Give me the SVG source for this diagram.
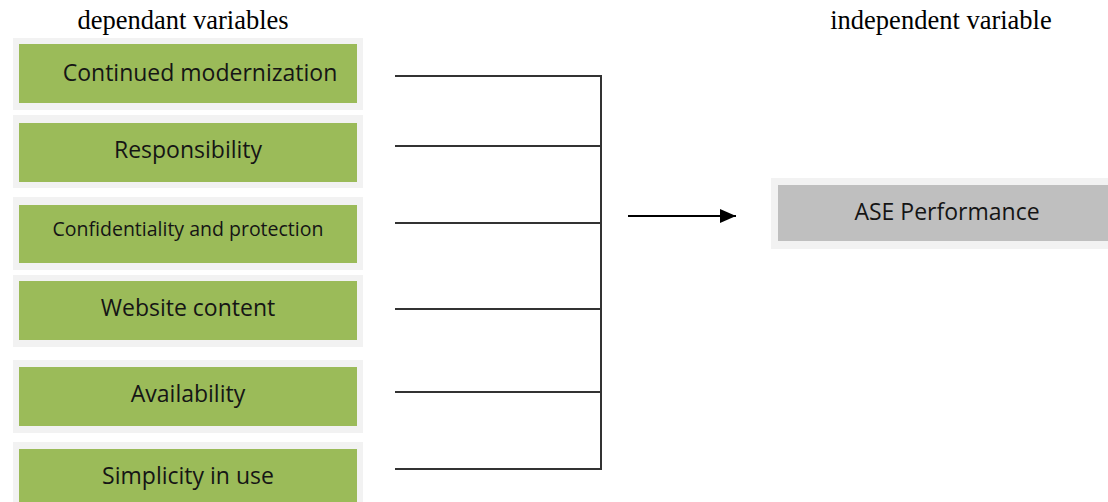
<svg xmlns="http://www.w3.org/2000/svg" width="1108" height="502" viewBox="0 0 1108 502">
<defs>
<style>
.outer{fill:#f2f2f2}
.green{fill:#9bbb59}
.gray{fill:#bfbfbf}
.lbl{font-family:"Open Sans","Noto Sans",sans-serif;font-size:23px;fill:#151515;text-anchor:middle}
.small{font-size:19.5px}
.title{font-family:"Liberation Serif","Times New Roman",serif;font-size:26.5px;fill:#000;text-anchor:middle}
.conn{stroke:#333;stroke-width:2;fill:none}
</style>
<marker id="ah" markerWidth="16" markerHeight="14" refX="16" refY="7" orient="auto" markerUnits="userSpaceOnUse">
<path d="M0,0 L16,7 L0,14 Z" fill="#000"/>
</marker>
</defs>
<rect width="1108" height="502" fill="#fff"/>
<text class="title" x="183" y="29">dependant variables</text>
<text class="title" x="941" y="29">independent variable</text>
<g id="n1"><rect class="outer" x="13" y="38" width="350" height="72"/><rect class="green" x="19" y="44" width="338" height="59"/><text class="lbl" x="200" y="81">Continued modernization</text></g>
<g id="n2"><rect class="outer" x="13" y="115" width="350" height="73"/><rect class="green" x="19" y="123" width="338" height="59"/><text class="lbl" x="188" y="158">Responsibility</text></g>
<g id="n3"><rect class="outer" x="13" y="197" width="350" height="73"/><rect class="green" x="19" y="205" width="338" height="58"/><text class="lbl small" x="188" y="236">Confidentiality and protection</text></g>
<g id="n4"><rect class="outer" x="13" y="275" width="350" height="72"/><rect class="green" x="19" y="281" width="338" height="59"/><text class="lbl" x="188" y="316">Website content</text></g>
<g id="n5"><rect class="outer" x="13" y="360" width="350" height="73"/><rect class="green" x="19" y="367" width="338" height="59"/><text class="lbl" x="188" y="402">Availability</text></g>
<g id="n6"><rect class="outer" x="13" y="442" width="350" height="70"/><rect class="green" x="19" y="449" width="338" height="60"/><text class="lbl" x="188" y="484">Simplicity in use</text></g>
<g id="n7"><rect class="outer" x="771" y="178" width="340" height="71"/><rect class="gray" x="778" y="185" width="333" height="56"/><text class="lbl" x="947" y="220">ASE Performance</text></g>
<g id="connectors">
<path class="conn" d="M395,76 H601 M395,146 H601 M395,223 H601 M395,309 H601 M395,392 H601 M395,469 H601 M601,75 V470"/>
<line x1="628" y1="216" x2="736" y2="216" stroke="#000" stroke-width="2" marker-end="url(#ah)"/>
</g>
</svg>
